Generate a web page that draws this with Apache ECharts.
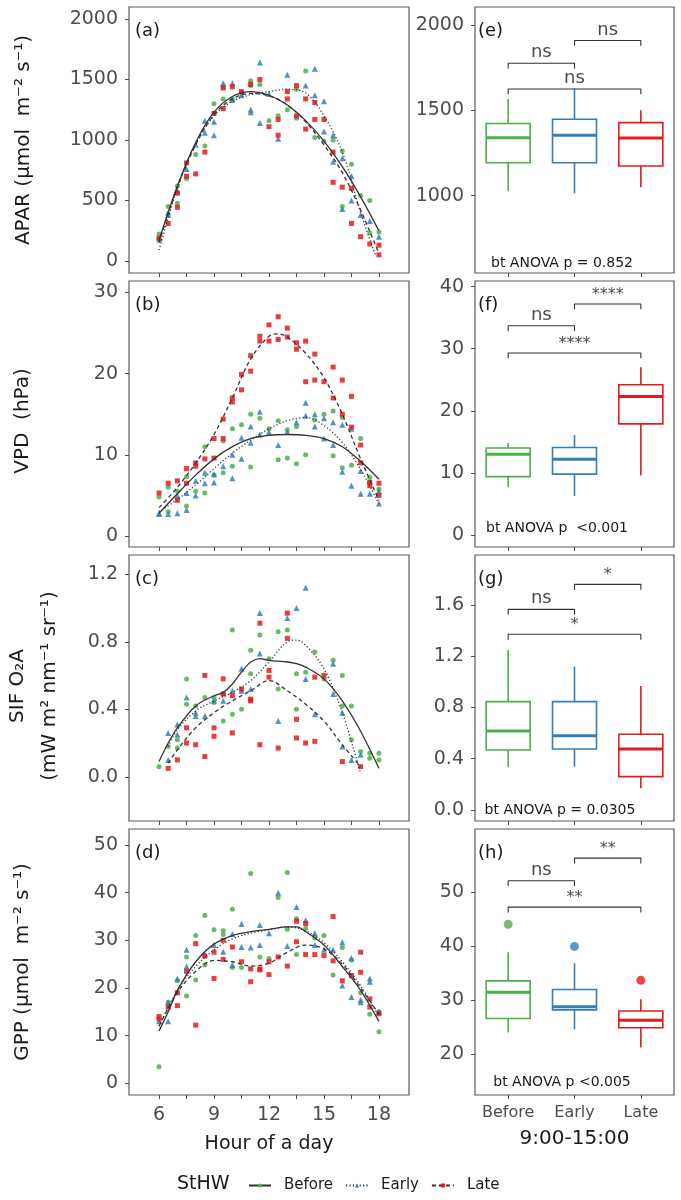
<!DOCTYPE html>
<html><head><meta charset="utf-8">
<script src="https://cdn.jsdelivr.net/npm/echarts@6/dist/echarts.min.js"></script>
<style>html,body{margin:0;padding:0;background:#fff}#c{width:681px;height:1200px}</style>
</head><body><div id="c"></div>
<script>
// ---------------- data ----------------
const groups = ['Before', 'Early', 'Late'];

// (a) APAR scatter
const aparBefore = [[6,222],[6,180],[6.5,450],[7,620],[7,476],[7.5,680],[8,880],[8.5,950],[9,1300],[9.5,1440],[9.5,1340],[10,1340],[10.5,1390],[11,1490],[11,1450],[11.5,1460],[12,1160],[12.5,1200],[13,1250],[13.5,1420],[13.5,1180],[14,1570],[14.5,1020],[15,990],[15.5,1000],[16,910],[16,450],[16.5,800],[17,540],[17.5,500],[17.5,230],[18,240]];
const aparEarly = [[6,180],[6.5,400],[6.5,380],[7,580],[7.5,760],[8,960],[8.5,1160],[8.5,1060],[9,1150],[9,1040],[9.5,1470],[10,1470],[10,1330],[10.5,1370],[11,1230],[11,1250],[11.5,1640],[11.5,1140],[12,1380],[12.5,1010],[13,1540],[14,1450],[14.5,1590],[14.5,1370],[15,1320],[15,1070],[15.5,1040],[15.5,820],[16,850],[16,430],[16.5,700],[16.5,500],[17,380],[17.5,330],[18,200]];
const aparLate = [[6,190],[6.5,310],[7,443],[7,560],[7.5,810],[7.5,700],[8,720],[8.5,900],[9,1220],[9.5,1430],[9.5,1260],[10,1440],[10.5,1400],[11,1460],[11.5,1500],[12,1110],[12.5,1040],[12.5,1170],[13,1400],[13,1340],[13.5,1450],[13.5,1200],[14,1340],[14,1090],[14.5,1310],[14.5,1170],[15,1170],[15.5,650],[15.5,900],[16,610],[16.5,600],[16.5,310],[17,200],[17.5,140],[18,130],[18,50]];
// (b) VPD scatter
const vpdBefore = [[6,4.8],[6.5,6.0],[6.5,3.0],[7,5.5],[7.5,7.3],[7.5,3.7],[8,5.5],[8.5,5.3],[8.5,11],[9,7.5],[9.5,11.7],[9.5,7.8],[10,13.2],[10,8.6],[10.5,13.7],[11,15.0],[11,8.5],[11.5,14.5],[12,13.2],[12.5,14.2],[12.5,9.4],[13,13.1],[13,9.6],[13.5,13.5],[13.5,8.9],[14,10.0],[14.5,14.3],[15,15.0],[15.5,15.4],[15.5,9.9],[16,14.6],[16,8.4],[16.5,8.7],[17,12.0],[17.5,7.2],[18,5.8]];
const vpdEarly = [[6,2.8],[6,2.7],[6.5,2.7],[7,2.8],[7,5.0],[7.5,3.2],[7.5,5.3],[8,6.8],[8,5.0],[8.5,7.8],[8.5,6.5],[9,7.6],[9,6.6],[9.5,8.6],[10,7.1],[10,10.0],[10.5,12.1],[10.5,9.5],[11,13.5],[11,11.5],[11.5,15.3],[11.5,12.5],[12,12.8],[12.5,11.2],[13,12.8],[13.5,14.0],[14,16.4],[14,14.8],[14.5,15.0],[14.5,13.5],[15,14.5],[15,12.0],[15.5,14.0],[15.5,11.2],[16,13.7],[16,7.9],[16.5,6.2],[16.5,13.2],[17,5.2],[17,8.0],[17.5,5.2],[18,4.0],[18,5.5]];
const vpdLate = [[6,5.3],[6.5,6.5],[7,6.8],[7,4.4],[7.5,8.3],[7.5,6.5],[8,9.0],[8,8.6],[8.5,9.5],[9,12.0],[9,9.6],[9.5,14.4],[9.5,12.0],[10,17.0],[10,16.5],[10.5,19.9],[10.5,18.0],[11,22.2],[11,20.3],[11.5,24.6],[11.5,24.0],[12,26.0],[12,24.0],[12.5,27.0],[12.5,24.2],[13,25.6],[13,24.5],[13.5,23.8],[13.5,23.0],[14,24.0],[14,19.0],[14.5,22.4],[14.5,19.2],[15,19.0],[15.5,20.8],[15.5,17.0],[16,19.2],[16,15.0],[16.5,17.2],[16.5,13.4],[17,11.2],[17,9.0],[17.5,6.6],[17.5,6.2],[18,6.5],[18,5.0]];
// (c) SIF scatter
const sifBefore = [[6,0.06],[6.5,0.18],[7,0.22],[7,0.17],[7.5,0.58],[7.5,0.43],[8,0.42],[8.5,0.47],[9,0.44],[9,0.47],[9.5,0.49],[9.5,0.33],[10,0.87],[10,0.37],[10.5,0.40],[11,0.75],[11,0.61],[11.5,0.84],[12,0.70],[12.5,0.86],[12.5,0.52],[13,0.87],[13.5,0.61],[13.5,0.40],[14,0.62],[14.5,0.74],[15,0.58],[15.5,0.69],[16,0.60],[16,0.42],[16.5,0.42],[16.5,0.22],[17,0.15],[17.5,0.14],[17.5,0.11],[18,0.14],[18,0.10]];
const sifEarly = [[6.5,0.26],[6.5,0.10],[7,0.31],[7,0.25],[7.5,0.47],[8,0.38],[8,0.36],[8.5,0.36],[9,0.45],[9.5,0.45],[10,0.51],[10.5,0.64],[10.5,0.51],[11,0.52],[11.5,0.97],[11.5,0.73],[12.5,0.33],[13,0.94],[13.5,1.00],[14,1.12],[14,0.58],[14.5,0.37],[15.5,0.67],[15.5,0.49],[16,0.38],[16,0.18],[16.5,0.10],[17,0.13]];
const sifLate = [[6.5,0.05],[7,0.10],[7.5,0.29],[7.5,0.20],[8,0.19],[8.5,0.60],[8.5,0.12],[9,0.29],[9,0.24],[9.5,0.58],[9.5,0.49],[10,0.48],[10,0.26],[10.5,0.52],[11,0.46],[11,0.45],[11.5,0.91],[11.5,0.19],[12,0.63],[12,0.59],[12.5,0.17],[13,0.97],[13,0.82],[13.5,0.34],[13.5,0.23],[14,0.20],[14.5,0.59],[14.5,0.21],[15,0.60],[16,0.09],[17,0.06]];
// (d) GPP scatter
const gppBefore = [[6,3.5],[6.5,17],[7,21.5],[7.5,26.5],[7.5,18.3],[8,31],[8,21.7],[8.5,35.2],[8.5,24.8],[9,32.2],[9.5,32],[9.5,31.2],[10,36.5],[10,24.3],[10.5,24.3],[11,44],[11.5,26.5],[12,26.2],[12.5,39],[13,44.2],[13,32.3],[13.5,34.5],[13.5,27],[14,32.5],[14.5,30.5],[15,31],[15.5,22.7],[16,28.5],[16.5,25.8],[17,19],[17.5,14.5],[18,15],[18,10.8]];
const gppEarly = [[6,13],[6.5,17],[6.5,13],[7,22],[7.5,28],[7.5,24.5],[8.5,27],[9,29],[9.5,27.6],[10,31.3],[10,24.8],[10.5,33.4],[10.5,28.6],[11,28.5],[11.5,33.2],[11.5,29],[12,31.5],[12.5,40],[13,28.8],[13.5,37],[14,34.2],[14.5,31.5],[14.5,29],[15,28],[15.5,28],[16,29.6],[16,20.5],[16.5,26.3],[16.5,18.1],[17,17.5],[17,17],[17.5,22],[17.5,21.3],[18,15]];
const gppLate = [[6,14],[6,13.5],[6.5,16],[7,16.3],[7,19],[7.5,23.5],[8,29.3],[8,12.2],[8.5,26.7],[9,27.5],[9,22],[9.5,26],[9.5,30],[10,28.6],[10.5,25.5],[11,24],[11,21.3],[11.5,24],[11.5,23.8],[12,25.5],[12,22.8],[12.5,26.5],[13,24.6],[13.5,34],[13.5,29.7],[14,33.5],[14,27],[14.5,27],[15,26.8],[15.5,35],[15.5,25.7],[16,21.5],[16.5,22.6],[17,27.5],[17,23.3],[17.5,17.7],[17.5,16],[18,14.6]];

// fitted smooth curves
const aparFitBefore = [[6,170],[7,620],[8,980],[9,1230],[10,1360],[11,1400],[12,1370],[13,1290],[14,1160],[15,990],[16,780],[17,530],[18,250]];
const aparFitEarly = [[6,90],[7,600],[8,970],[9,1200],[10,1320],[11,1375],[12,1400],[13,1420],[14,1390],[15,1200],[16,900],[17,400],[17.8,50]];
const aparFitLate = [[6,150],[7,610],[8,960],[9,1210],[10,1340],[11,1385],[12,1365],[13,1290],[14,1150],[15,960],[16,730],[17,420],[18,60]];
const vpdFitBefore = [[6,2.8],[7,5.2],[8,7.5],[9,9.5],[10,11.0],[11,12.0],[12,12.4],[13,12.5],[14,12.4],[15,12.0],[16,11.0],[17,9.2],[18,7.0]];
const vpdFitEarly = [[6,3.0],[7,4.5],[8,6.3],[9,8.3],[10,10.2],[11,11.8],[12,13.2],[13,14.2],[14,14.6],[15,13.6],[16,11.5],[17,8.2],[18,4.0]];
const vpdFitLate = [[6,3.5],[7,6.0],[8,9.0],[9,12.5],[10,17.0],[11,21.8],[12,24.6],[12.5,24.9],[13,24.5],[14,22.5],[15,19.5],[16,15.0],[17,9.5],[18,4.4]];
const sifFitBefore = [[6,0.09],[6.5,0.2],[7,0.29],[8,0.42],[9,0.48],[9.5,0.50],[10,0.55],[10.5,0.62],[11,0.68],[11.5,0.70],[12,0.69],[13,0.68],[13.5,0.67],[14,0.65],[15,0.58],[16,0.45],[17,0.27],[18,0.05]];
const sifFitEarly = [[6.5,0.18],[7,0.28],[8,0.39],[9,0.45],[10,0.50],[11,0.57],[12,0.68],[13,0.80],[13.5,0.81],[14,0.78],[15,0.64],[16,0.38],[17,0.02]];
const sifFitLate = [[6.5,0.08],[7,0.16],[8,0.29],[9,0.38],[10,0.45],[11,0.51],[12,0.57],[13,0.51],[14,0.43],[15,0.33],[16,0.19],[17,0.06]];
const gppFitBefore = [[6,11],[6.5,15],[7,19.5],[8,25.5],[9,29.2],[10,31],[11,31.8],[12,32.3],[13,32.8],[13.5,32.8],[14,31.8],[15,29],[16,24.5],[17,19.5],[18,13]];
const gppFitEarly = [[6,12],[7,19.5],[8,24.5],[9,28],[10,30.3],[11,31.5],[12,32.2],[13,32.8],[14,32],[15,29.5],[16,25.5],[17,20.5],[18,14]];
const gppFitLate = [[6,12],[7,19],[8,23.5],[9,25.8],[10,25.5],[11,24.6],[12,25.2],[13,27.5],[14,29],[15,28.2],[16,25],[17,20],[18,14.5]];

// box statistics 9:00-15:00: [lower whisker, Q1, median, Q3, upper whisker]
const boxAPAR = [[1025,1192,1339,1422,1565],[1014,1192,1353,1447,1627],[1049,1173,1337,1427,1500]];
const boxVPD  = [[7.7,9.4,13.0,14.0,14.8],[6.3,9.8,12.2,14.1,16.1],[9.6,17.9,22.3,24.2,27.0]];
const boxSIF  = [[0.333,0.468,0.617,0.846,1.249],[0.338,0.476,0.580,0.846,1.119],[0.169,0.260,0.476,0.591,0.968]];
const boxGPP  = [[24.0,26.6,31.5,33.6,38.9],[24.6,28.2,28.8,32.0,36.9],[21.2,24.9,26.3,28.0,30.2]];
const outGPP  = [[0,44.1],[1,40.0],[2,33.7]];

// significance brackets: [from group, to group, height, label]
const sigAPAR = [[1,2,1775,'ns'],[2,3,1908,'ns'],[1,3,1624,'ns']];
const sigVPD  = [[1,2,33.7,'ns'],[2,3,37.2,'****'],[1,3,29.3,'****']];
const sigSIF  = [[1,2,1.566,'ns'],[2,3,1.761,'*'],[1,3,1.371,'*']];
const sigGPP  = [[1,2,52.2,'ns'],[2,3,56.4,'**'],[1,3,47.3,'**']];
const anovaText = ['bt ANOVA p = 0.852', 'bt ANOVA p  <0.001', 'bt ANOVA p = 0.0305', 'bt ANOVA p <0.005'];

const hourTicks = [6,7.5,9,10.5,12,13.5,15,16.5,18];
const hourLabels = [6,9,12,15,18];

// ---------------- layout / style ----------------
const FONT = 'DejaVu Sans';
const colors = ['#4DAF4A', '#377EB8', '#E41A1C'];
const symbols = ['circle', 'triangle', 'rect'];
const symSizes = [5, 6, 5];
const lineTypes = ['solid', [1.2, 2.2], [4, 3]];
const TXT = '#4d4d4d', DARK = '#1a1a1a', FRAME = '#5a5a5a';
const tops = [7, 281, 555, 829], H = 266;
const LX = 129, LW = 280, RX = 475, RW = 199;

const scatterSets = [[aparBefore, aparEarly, aparLate],[vpdBefore, vpdEarly, vpdLate],[sifBefore, sifEarly, sifLate],[gppBefore, gppEarly, gppLate]];
const fitSets = [[aparFitBefore, aparFitEarly, aparFitLate],[vpdFitBefore, vpdFitEarly, vpdFitLate],[sifFitBefore, sifFitEarly, sifFitLate],[gppFitBefore, gppFitEarly, gppFitLate]];
const boxSets = [boxAPAR, boxVPD, boxSIF, boxGPP];
const sigSets = [sigAPAR, sigVPD, sigSIF, sigGPP];

const leftY = [
  {min: -100, max: 2100, ticks: [0,500,1000,1500,2000], dec: 0},
  {min: -1.35, max: 31.4, ticks: [0,10,20,30], dec: 0},
  {min: -0.262, max: 1.314, ticks: [0,0.4,0.8,1.2], dec: 1},
  {min: -2.45, max: 53.35, ticks: [0,10,20,30,40,50], dec: 0}
];
const rightY = [
  {min: 547, max: 2104, ticks: [1000,1500,2000], dec: 0},
  {min: -1.93, max: 40.9, ticks: [0,10,20,30,40], dec: 0},
  {min: -0.086, max: 1.99, ticks: [0,0.4,0.8,1.2,1.6], dec: 1},
  {min: 12.4, max: 61.8, ticks: [20,30,40,50], dec: 0}
];

const grids = [], xAxes = [], yAxes = [], series = [];
for (let i = 0; i < 4; i++) grids.push({left: LX, top: tops[i], width: LW, height: H, show: true, borderColor: FRAME, borderWidth: 1.2, outerBoundsMode: 'none'});
for (let i = 0; i < 4; i++) grids.push({left: RX, top: tops[i], width: RW, height: H, show: true, borderColor: FRAME, borderWidth: 1.2, outerBoundsMode: 'none'});

const tickStyle = {show: true, length: 4, lineStyle: {color: TXT, width: 1}};
for (let i = 0; i < 4; i++) {
  xAxes.push({gridIndex: i, type: 'value', min: 4.36, max: 19.64,
    axisLine: {show: false, onZero: false}, splitLine: {show: false},
    axisTick: Object.assign({customValues: hourTicks}, tickStyle),
    axisLabel: {show: i === 3, customValues: hourLabels, fontSize: 19, color: TXT, margin: 11, fontFamily: FONT},
    name: i === 3 ? 'Hour of a day' : '', nameLocation: 'middle', nameGap: 40,
    nameTextStyle: {fontSize: 19, color: DARK, fontFamily: FONT}});
}
for (let i = 0; i < 4; i++) {
  xAxes.push({gridIndex: 4 + i, type: 'category', data: groups, boundaryGap: true,
    axisLine: {show: false, onZero: false}, splitLine: {show: false},
    axisTick: Object.assign({alignWithLabel: true, interval: 0}, tickStyle),
    axisLabel: {show: i === 3, interval: 0, fontSize: 16, color: TXT, margin: 10, fontFamily: FONT},
    name: i === 3 ? '9:00-15:00' : '', nameLocation: 'middle', nameGap: 34,
    nameTextStyle: {fontSize: 20, color: DARK, fontFamily: FONT}});
}
for (let i = 0; i < 4; i++) {
  xAxes.push({gridIndex: 4 + i, type: 'value', min: 0.5, max: 3.5, show: false});
}
function mkY(gi, c) {
  return {gridIndex: gi, type: 'value', min: c.min, max: c.max,
    axisLine: {show: false, onZero: false}, splitLine: {show: false},
    axisTick: Object.assign({customValues: c.ticks}, tickStyle),
    axisLabel: {customValues: c.ticks, fontSize: 19, color: TXT, margin: 11, fontFamily: FONT,
      formatter: v => Number(v).toFixed(c.dec)}};
}
for (let i = 0; i < 4; i++) yAxes.push(mkY(i, leftY[i]));
for (let i = 0; i < 4; i++) yAxes.push(mkY(4 + i, rightY[i]));

// fitted lines first (legend uses first series of each name)
for (let p = 0; p < 4; p++) for (let g = 0; g < 3; g++) {
  series.push({type: 'line', name: groups[g], xAxisIndex: p, yAxisIndex: p, data: fitSets[p][g],
    smooth: 0.35, showSymbol: false, symbol: symbols[g], silent: true, z: 4,
    lineStyle: {color: '#333333', width: 1.3, type: lineTypes[g]},
    itemStyle: {color: colors[g]}});
}
for (let p = 0; p < 4; p++) for (let g = 0; g < 3; g++) {
  series.push({type: 'scatter', name: groups[g], xAxisIndex: p, yAxisIndex: p, data: scatterSets[p][g],
    symbol: symbols[g], symbolSize: symSizes[g], silent: true, z: 2,
    itemStyle: {color: colors[g], opacity: 0.85}});
}

function renderBox(params, api) {
  const k = api.value(0);
  const pt = [1,2,3,4,5].map(d => api.coord([k, api.value(d)]));
  const cx = pt[0][0], hw = 22, col = colors[k];
  const ls = {stroke: col, lineWidth: 1.6, fill: null};
  return {type: 'group', children: [
    {type: 'line', shape: {x1: cx, y1: pt[0][1], x2: cx, y2: pt[1][1]}, style: ls},
    {type: 'line', shape: {x1: cx, y1: pt[3][1], x2: cx, y2: pt[4][1]}, style: ls},
    {type: 'rect', shape: {x: cx - hw, y: pt[3][1], width: 2 * hw, height: pt[1][1] - pt[3][1]}, style: {stroke: col, lineWidth: 1.6, fill: '#ffffff'}},
    {type: 'line', shape: {x1: cx - hw, y1: pt[2][1], x2: cx + hw, y2: pt[2][1]}, style: {stroke: col, lineWidth: 3}}
  ]};
}

for (let i = 0; i < 4; i++) {
  series.push({type: 'custom', xAxisIndex: 4 + i, yAxisIndex: 4 + i, silent: true, z: 3,
    data: boxSets[i].map((s, k) => [k].concat(s)), encode: {x: 0, y: [1,2,3,4,5]}, renderItem: renderBox});
  const rng = rightY[i].max - rightY[i].min, drop = rng * 0.02;
  sigSets[i].forEach(s => {
    const [a, b, y, lab] = s;
    series.push({type: 'line', xAxisIndex: 8 + i, yAxisIndex: 4 + i, silent: true, z: 3,
      data: [[a, y - drop], [a, y], [b, y], [b, y - drop]], symbol: 'none',
      lineStyle: {color: '#333333', width: 1.1}});
    series.push({type: 'scatter', xAxisIndex: 8 + i, yAxisIndex: 4 + i, silent: true, z: 5,
      data: [[(a + b) / 2, y]], symbolSize: 1, itemStyle: {color: 'rgba(0,0,0,0)'},
      label: {show: true, position: 'top', distance: 1, formatter: lab, color: DARK,
        fontSize: lab === 'ns' ? 18 : 16, fontFamily: FONT}});
  });
}
series.push({type: 'scatter', xAxisIndex: 7, yAxisIndex: 7, silent: true, z: 4, symbolSize: 9,
  data: outGPP.map(d => ({value: d, itemStyle: {color: colors[d[0]]}}))});

// text annotations
const graphic = [];
const panelLabels = ['(a)','(b)','(c)','(d)','(e)','(f)','(g)','(h)'];
for (let i = 0; i < 8; i++) {
  const left = i < 4 ? LX + 6 : RX + 3;
  graphic.push({type: 'text', x: left, y: tops[i % 4] + 24, z: 10,
    style: {text: panelLabels[i], fontSize: 18, fontFamily: FONT, fill: DARK, textVerticalAlign: 'middle'}});
}
const anovaX = [562, 557, 560, 562], anovaY = [263, 528, 810, 1082];
for (let i = 0; i < 4; i++) {
  graphic.push({type: 'text', x: anovaX[i], y: anovaY[i], z: 10,
    style: {text: anovaText[i], fontSize: 14, fontFamily: FONT, fill: DARK, textAlign: 'center', textVerticalAlign: 'middle'}});
}
const yTitles = [
  {t: 'APAR (μmol  m⁻² s⁻¹)', x: 24, y: 140},
  {t: 'VPD  (hPa)', x: 23, y: 421},
  {t: 'SIF O₂A\n(mW m² nm⁻¹ sr⁻¹)', x: 34, y: 686},
  {t: 'GPP (μmol  m⁻² s⁻¹)', x: 23, y: 962}
];
yTitles.forEach(o => graphic.push({type: 'text', x: o.x, y: o.y, rotation: Math.PI / 2, z: 10,
  style: {text: o.t, fontSize: 20, lineHeight: 32, fontFamily: FONT, fill: DARK, textAlign: 'center', textVerticalAlign: 'middle'}}));
graphic.push({type: 'text', x: 177, y: 1184, z: 10,
  style: {text: 'StHW', fontSize: 19, fontFamily: FONT, fill: DARK, textVerticalAlign: 'middle'}});

const chart = echarts.init(document.getElementById('c'), null, {renderer: 'canvas'});
chart.setOption({
  animation: false,
  backgroundColor: '#ffffff',
  textStyle: {fontFamily: FONT},
  grid: grids, xAxis: xAxes, yAxis: yAxes, series: series, graphic: graphic,
  legend: {data: groups, left: 243, top: 1173, itemWidth: 22, itemHeight: 5, itemGap: 12, selectedMode: false,
    textStyle: {fontSize: 15, color: DARK, fontFamily: FONT, padding: [0, 0, 0, 8]}}
});
</script></body></html>
